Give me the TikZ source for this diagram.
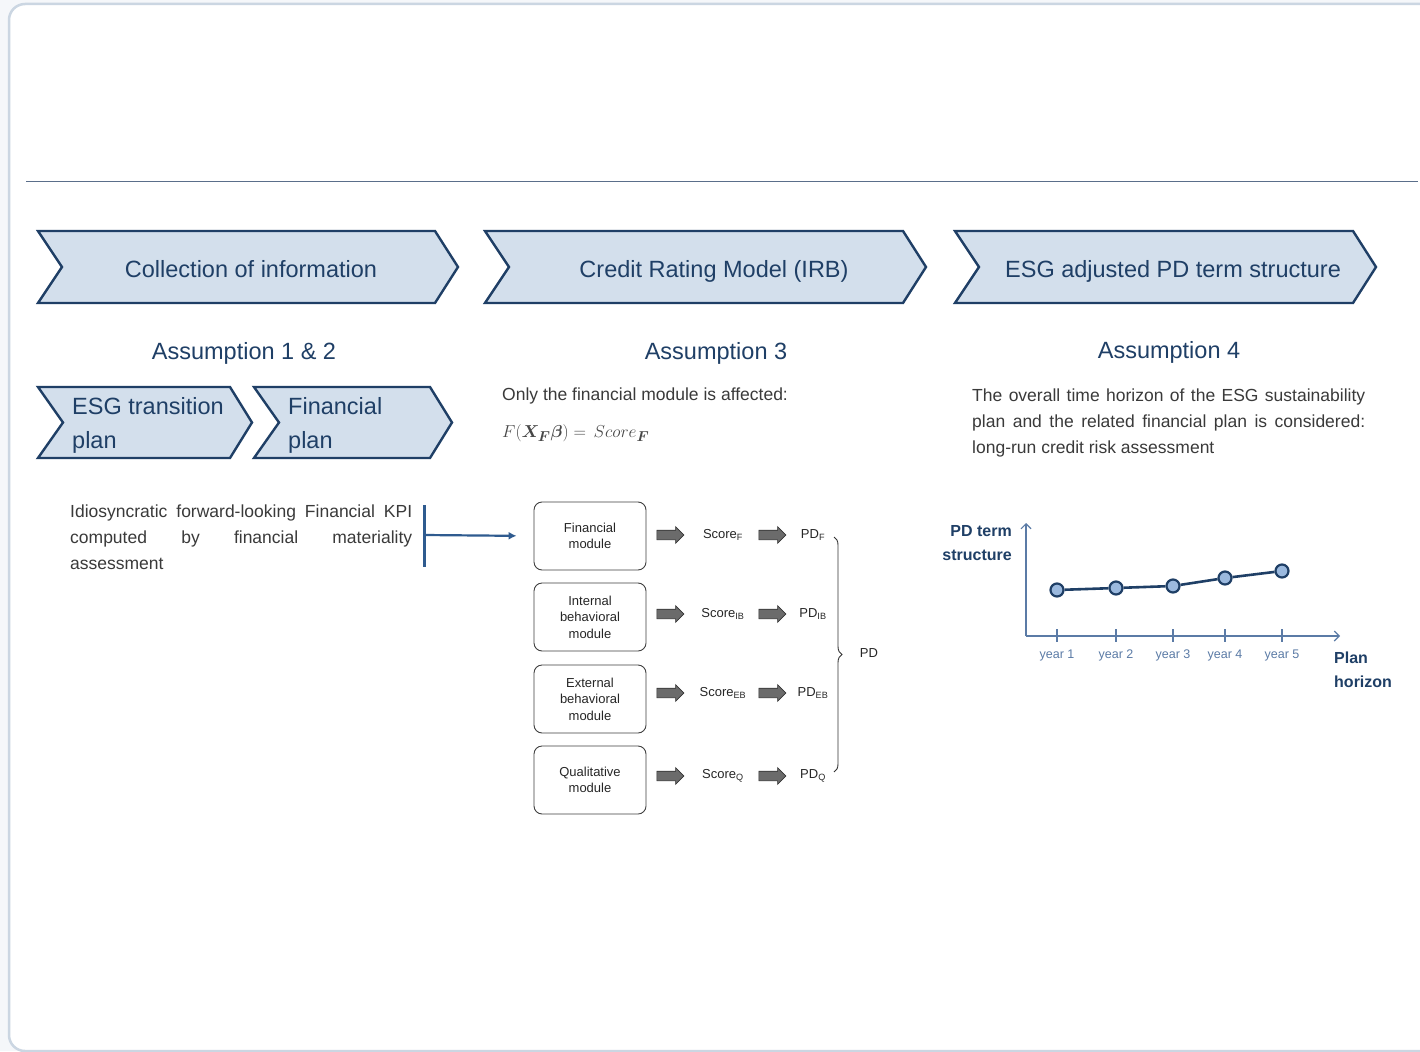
\documentclass[tikz,border=0pt]{standalone}
\usepackage{fontspec}
\setmainfont{Liberation Sans}
\usepackage{bm}
\usetikzlibrary{shapes.arrows,decorations.pathreplacing,arrows.meta}

\definecolor{navy}{HTML}{1F3F66}
\definecolor{chevfill}{HTML}{D3DFEC}
\definecolor{txtgrey}{HTML}{3A3A3A}
\definecolor{axisblue}{HTML}{5B7BA6}
\definecolor{dotfill}{HTML}{9BB9DE}
\definecolor{cardline}{HTML}{CBD6E2}
\definecolor{linkblue}{HTML}{2F5B8F}
\definecolor{bgpale}{HTML}{F5F7FA}
\definecolor{rulecol}{HTML}{5A6E8A}

\tikzset{
  chev/.style={fill=chevfill, draw=navy, line width=2.4pt, line join=miter},
  chevtxt/.style={text=navy, font=\fontsize{23.5}{34}\selectfont},
  heading/.style={text=navy, font=\fontsize{23.5}{28}\selectfont, anchor=base},
  bodytxt/.style={text=txtgrey, font=\fontsize{17.5}{26}\selectfont, inner sep=0pt},
  module/.style={draw=black!75, line width=0.9pt, rounded corners=8pt, minimum width=112pt,
    minimum height=68pt, align=center, font=\fontsize{13}{16.5}\selectfont, text=black!85},
  blockarrow/.style={single arrow, fill=black!58, draw=black!80, line width=0.6pt, inner sep=4.5pt,
    single arrow head extend=3.5pt, minimum height=27pt},
  smalllbl/.style={font=\fontsize{13}{16}\selectfont, text=black!85},
  yearlbl/.style={font=\fontsize{12.5}{15}\selectfont, text=axisblue},
  axis/.style={draw=axisblue, line width=1.1pt},
  dot/.style={circle, fill=dotfill, draw=navy, line width=2.2pt, minimum size=13pt, inner sep=0pt},
  chartlbl/.style={font=\fontsize{16}{24}\selectfont\bfseries, text=navy, inner sep=0pt},
}

\begin{document}
\begin{tikzpicture}[x=1pt, y=-1pt]

    % Card and header rule
    \clip (0,0) rectangle (1420,1051);
    \fill[bgpale] (0,0) rectangle (1420,1051);
    \draw[cardline, line width=2.5pt, fill=white, rounded corners=16pt] (9,4) rectangle (1460,1051);
    \draw[rulecol, line width=0.8pt] (26,181) -- (1418,181);

    % Process chevrons
    \foreach \l/\r/\cx/\txt/\nm in {38/435/251/Collection of information/collect,
        485/903/714/{Credit Rating Model (IRB)}/crm,
        955/1353/1173/ESG adjusted PD term structure/esgpd} {
        \draw[chev] (\l,231) -- (\r,231) -- (\r+23,267) -- (\r,303) -- (\l,303) -- (\l+24,267) -- cycle;
        \node[chevtxt, anchor=base] (\nm) at (\cx,277) {\txt};
    }

    % Assumptions
    \node[heading] (ass12) at (244,359.5) {Assumption 1 \& 2};
    \node[heading] (ass3) at (716,359.5) {Assumption 3};
    \node[heading] (ass4) at (1169,358.5) {Assumption 4};

    % Plans
    \foreach \l/\r/\txt/\nm in {38/230/{ESG transition\\plan}/esgplan, 254/430/{Financial\\plan}/finplan} {
        \draw[chev] (\l,387) -- (\r,387) -- (\r+22,422.5) -- (\r,458) -- (\l,458) -- (\l+25,422.5) -- cycle;
        \node[chevtxt, align=left, anchor=west, inner sep=0pt] (\nm) at (\l+34,425) {\txt};
    }

    \node[bodytxt, text width=342pt, align=justify, anchor=north west] (kpi) at (70,505)
        {Idiosyncratic forward-looking Financial KPI\linebreak computed by financial materiality\linebreak assessment};

    % Assumption 3 text
    \node[bodytxt, anchor=west] (only) at (502,396) {Only the financial module is affected:};
    \node[anchor=west, inner sep=0pt, text=black!72] (formula) at (502,433)
        {\fontsize{19}{22}\selectfont $F(\bm{X}_{\bm{F}}\bm{\beta}) =\, Score_{\bm{F}}$};

    % Modules
    \node[module] (fin) at (590,536) {Financial\\module};
    \node[module] (intb) at (590,617) {Internal\\behavioral\\module};
    \node[module] (extb) at (590,699) {External\\behavioral\\module};
    \node[module] (qual) at (590,780) {Qualitative\\module};

    \foreach \y/\s/\nm in {535/F/f, 614/IB/ib, 693/EB/eb, 776/Q/q} {
        \node[blockarrow] (a\nm) at (668,\y) {};
        \node[smalllbl] (score\nm) at (723,\y) {Score\textsubscript{\s}};
        \node[blockarrow] (b\nm) at (770,\y) {};
        \node[smalllbl] (pd\nm) at (813,\y) {PD\textsubscript{\s}};
    }
    \draw[decorate, decoration={brace, amplitude=8pt}, line width=0.9pt, black!80] (834,537) -- (834,772);
    \node[smalllbl] (pdall) at (869,653) {PD};

    % KPI link
    \draw[linkblue, line width=3pt] (424,505) -- (424,567);
    \coordinate (bar) at (424,535);
    \draw[linkblue, line width=2.2pt, -{Latex[length=8pt,width=8pt]}, shorten >=17pt] (bar) -- (fin.west);

    % Assumption 4 text
    \node[bodytxt, text width=393pt, align=justify, anchor=north west] (horizon) at (972,389)
        {The overall time horizon of the ESG sustainability\linebreak plan and the related financial plan is considered:\linebreak long-run credit risk assessment};

    % PD term structure chart
    \coordinate (origin) at (1026,636);
    \coordinate (ytop) at (1026,523);
    \coordinate (xend) at (1340,636);
    \draw[axis, -{Straight Barb[length=5pt,width=10pt]}] (origin) -- (ytop);
    \draw[axis, -{Straight Barb[length=5pt,width=10pt]}] (origin) -- (xend);
    \foreach \i/\x/\y in {1/1057/590, 2/1116/588, 3/1173/586, 4/1225/578, 5/1282/571} {
        \draw[axis] (\x,629) -- (\x,642);
        \node[yearlbl] (yr\i) at (\x,655) {year \i};
        \node[dot] (p\i) at (\x,\y) {};
    }
    \draw[navy, line width=2.6pt] (p1) -- (p2) -- (p3) -- (p4) -- (p5);
    \node[chartlbl, align=right, anchor=east] (pdts) at (1012,543) {PD term\\structure};
    \node[chartlbl, align=left, anchor=west] (planh) at (1334,670) {Plan\\horizon};

\end{tikzpicture}
\end{document}
